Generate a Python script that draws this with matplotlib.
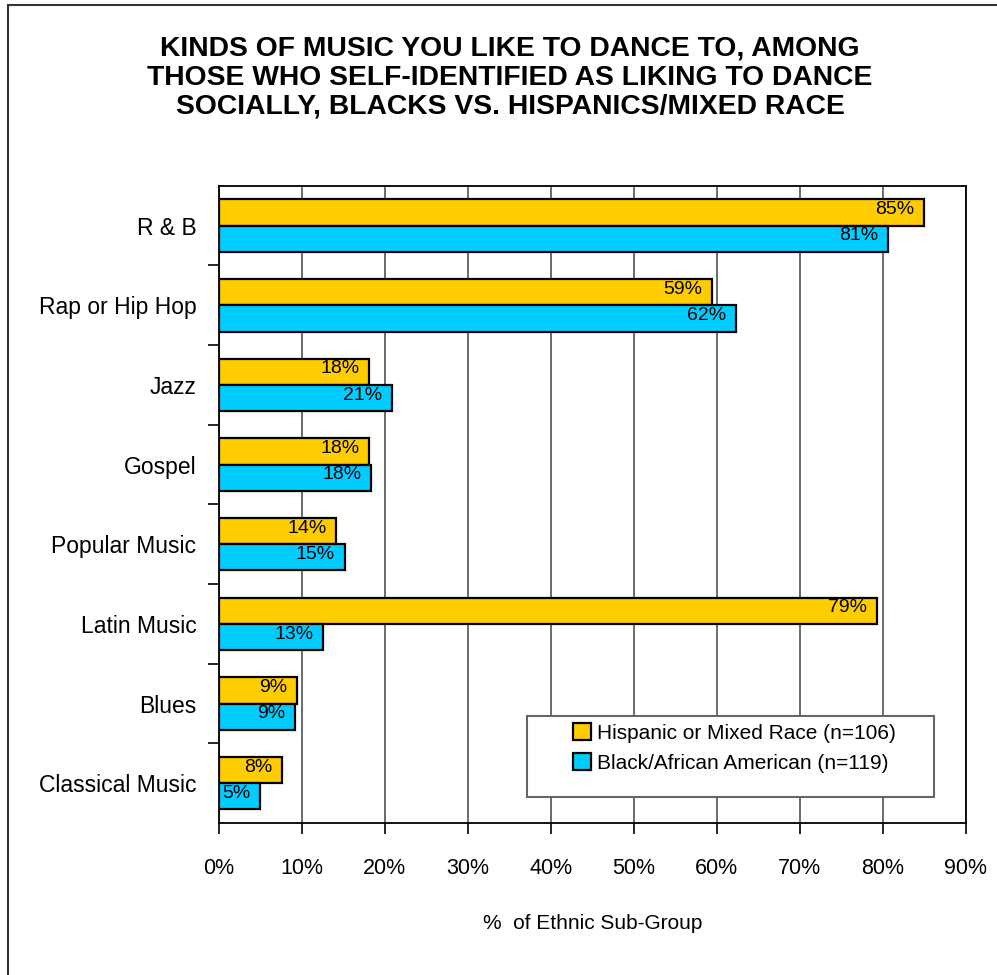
import matplotlib.pyplot as plt
import numpy as np
from matplotlib.lines import Line2D
from matplotlib.patches import Patch, Rectangle
from matplotlib.ticker import FixedLocator, PercentFormatter

categories = ["R & B", "Rap or Hip Hop", "Jazz", "Gospel", "Popular Music",
              "Latin Music", "Blues", "Classical Music"]
hispanic = [85.0, 59.4, 18.1, 18.1, 14.2, 79.3, 9.4, 7.6]
black = [80.6, 62.3, 20.9, 18.4, 15.2, 12.6, 9.2, 5.0]
series_names = ["Hispanic or Mixed Race (n=106)", "Black/African American (n=119)"]
title = ("KINDS OF MUSIC YOU LIKE TO DANCE TO, AMONG\n"
         "THOSE WHO SELF-IDENTIFIED AS LIKING TO DANCE\n"
         "SOCIALLY, BLACKS VS. HISPANICS/MIXED RACE")

plt.rcParams['font.family'] = ["Liberation Sans", "DejaVu Sans"]

yellow = '#FFCC00'
blue = '#00CCFF'

fig = plt.figure(figsize=(9.97, 9.75), dpi=100)
ax = fig.add_axes([0.2192, 0.1559, 0.7497, 0.6536])

y = np.arange(len(categories))
h = 0.33
bars_h = ax.barh(y - h / 2, hispanic, height=h, color=yellow, edgecolor='black', linewidth=1.6, zorder=3)
bars_b = ax.barh(y + h / 2, black, height=h, color=blue, edgecolor='black', linewidth=1.6, zorder=3)

for bars, vals in ((bars_h, hispanic), (bars_b, black)):
    for bar, v in zip(bars, vals):
        ax.annotate(f"{v:.0f}%", (bar.get_width(), bar.get_y() + bar.get_height() / 2),
                    xytext=(-7, 2), textcoords='offset points', ha='right', va='center',
                    fontsize=14, color='black', zorder=4)

ax.set_xlim(0, 90)
ax.set_ylim(len(categories) - 0.5, -0.5)
ax.xaxis.set_major_locator(FixedLocator(np.arange(0, 91, 10)))
ax.xaxis.set_major_formatter(PercentFormatter(decimals=0))
ax.tick_params(axis='x', direction='out', length=8, width=1.2, pad=17, labelsize=15.5, colors='black')
ax.set_yticks(y)
ax.set_yticklabels(categories)
ax.set_yticks(np.arange(0.5, len(categories) - 0.5, 1), minor=True)
ax.tick_params(axis='y', which='major', length=0, pad=16, labelsize=16.5)
ax.tick_params(axis='y', which='minor', direction='out', length=8, width=1.2)
ax.grid(axis='x', color='#444444', linewidth=1.1, zorder=1)
for s in ax.spines.values():
    s.set_color('black')
    s.set_linewidth(1.3)

ax.set_xlabel("%  of Ethnic Sub-Group", fontsize=15)
ax.xaxis.set_label_coords(0.5, -0.158)
ax.xaxis.label.set_va('center')

# legend box
ax.add_patch(Rectangle((0.4127, 0.0408), 0.5443, 0.1271, transform=ax.transAxes,
                       facecolor='white', edgecolor='#666666', linewidth=1.5, zorder=5))
handles = [Patch(facecolor=yellow, edgecolor='black', linewidth=1.6),
           Patch(facecolor=blue, edgecolor='black', linewidth=1.6)]
leg = ax.legend(handles, series_names, loc='upper left', bbox_to_anchor=(0.5744, 0.2585),
                bbox_transform=fig.transFigure, frameon=False, fontsize=15,
                handlelength=0.86, handleheight=0.86, handletextpad=0.3,
                labelspacing=0.5, borderpad=0, borderaxespad=0)
leg.set_zorder(6)

fig.text(0.5115, 1 - 36 / 975, title, ha='center', va='top', fontsize=20.3, fontweight='bold',
         linespacing=1.15)

# chart area border (left and top edges visible)
fig.add_artist(Line2D([7.5 / 997, 7.5 / 997], [0, 1 - 5 / 975], color='#333333', linewidth=1.5))
fig.add_artist(Line2D([7.5 / 997, 1], [1 - 5 / 975, 1 - 5 / 975], color='#333333', linewidth=1.5))

fig.savefig("out.png", dpi=100)
